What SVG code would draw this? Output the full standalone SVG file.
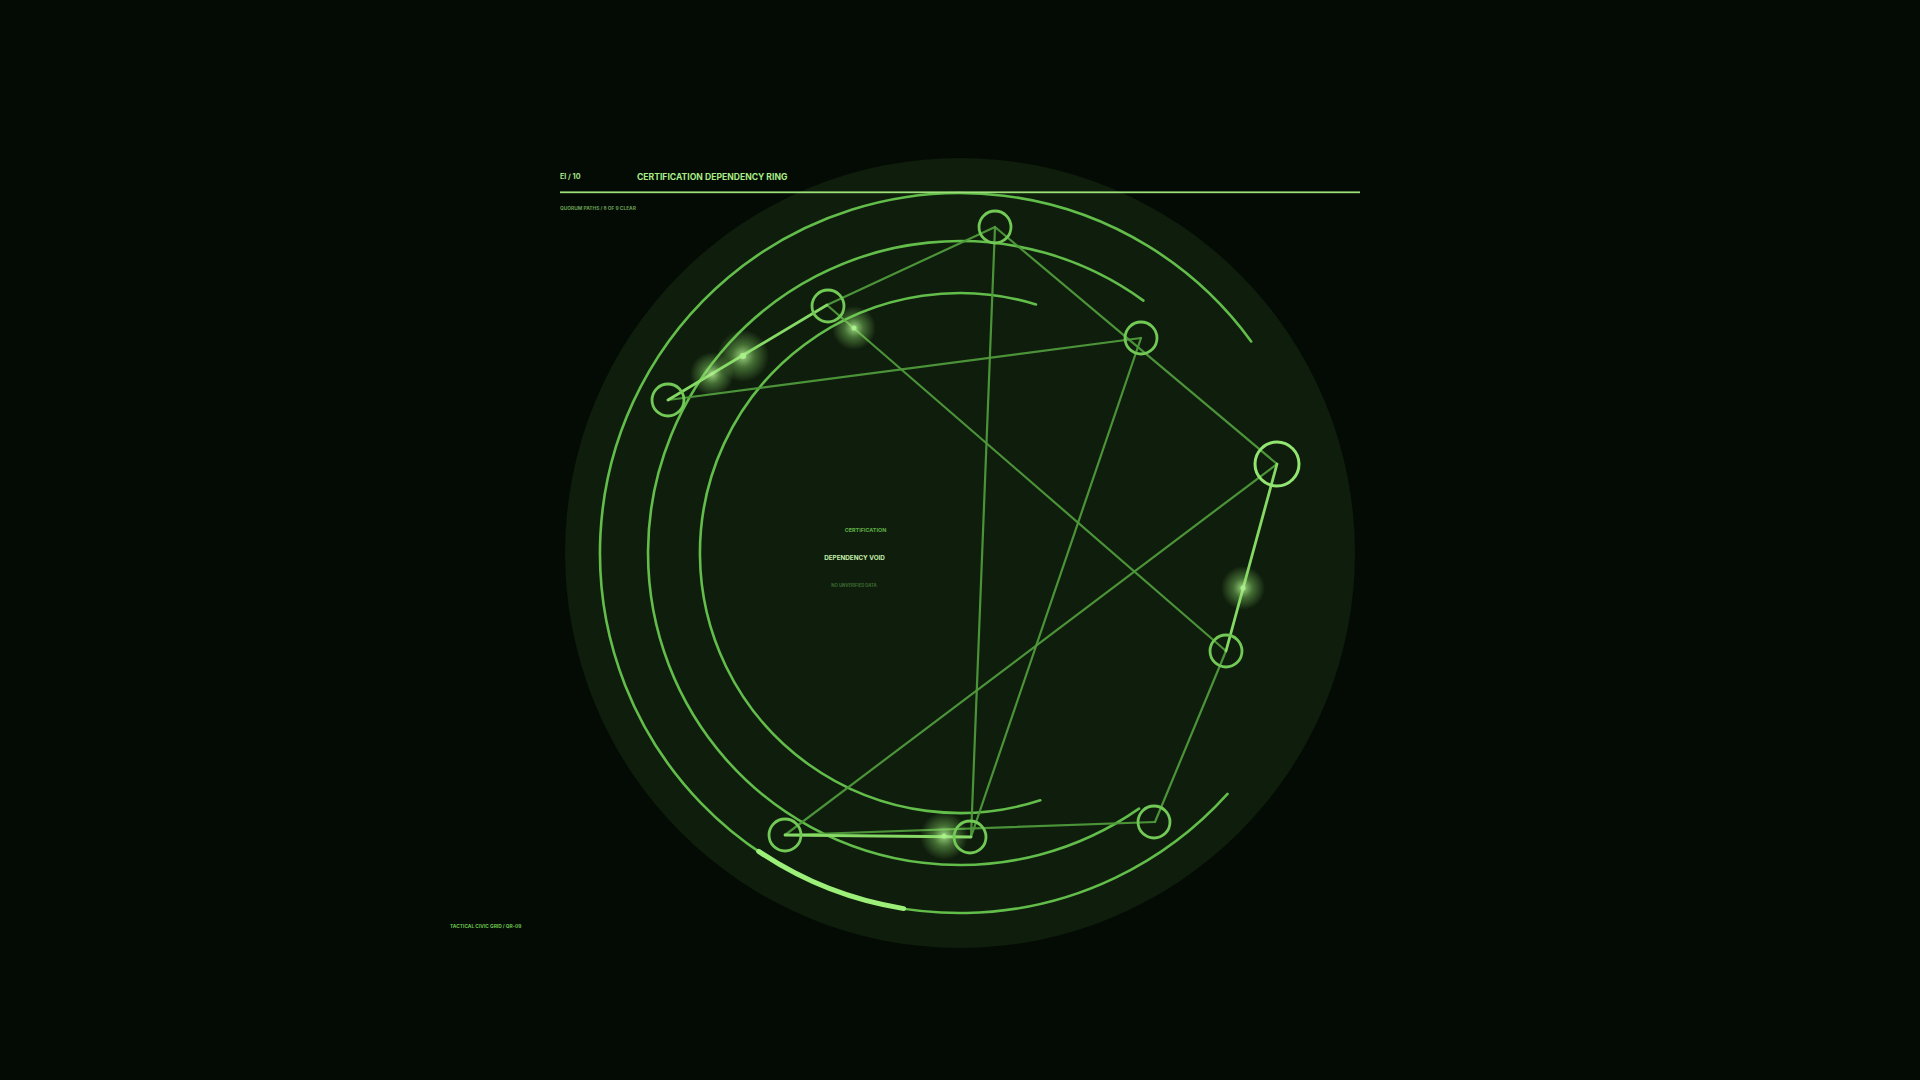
<svg xmlns="http://www.w3.org/2000/svg" width="1920" height="1080" viewBox="0 0 1920 1080">
<defs>
<style>
.arc{fill:none;stroke:#62bd4a;stroke-width:2.6;stroke-linecap:round}
.edge{fill:none;stroke:#4f9a3b;stroke-width:2.2;stroke-linecap:round;opacity:0.95}
.hot{fill:none;stroke:#86d965;stroke-width:2.8;stroke-linecap:round}
.node{fill:none;stroke:#72c956;stroke-width:2.8}
.big{fill:none;stroke:#92e570;stroke-width:3}
.t{font-family:Inter,"Liberation Sans",sans-serif;font-weight:700}
</style>
<radialGradient id="glow">
<stop offset="0" stop-color="#bdf79d" stop-opacity="0.85"/>
<stop offset="0.45" stop-color="#8fe06c" stop-opacity="0.4"/>
<stop offset="1" stop-color="#8fe06c" stop-opacity="0"/>
</radialGradient>
</defs>
<rect width="1920" height="1080" fill="#040b04"/>
<circle cx="960" cy="553" r="395" fill="#0f1d0c"/>
<g id="rings">
<path class="arc" d="M1251.2,341.4 A360,360 0 1 0 1227.5,793.9"/>
<path class="arc" d="M1143.4,300.6 A312,312 0 1 0 1139,808.6"/>
<path class="arc" d="M1036,304.4 A260,260 0 1 0 1040.3,800.3"/>
<path d="M758.7,851.4 A360,360 0 0 0 903.7,908.6" fill="none" stroke="#9cef78" stroke-width="5" stroke-linecap="round"/>
</g>
<g id="header">
<text class="t" x="560" y="179" font-size="7.2" fill="#a8e08c">EI / 10</text>
<text class="t" x="637" y="180" font-size="8.6" fill="#a9ec88">CERTIFICATION DEPENDENCY RING</text>
<rect x="560" y="191.4" width="800" height="1.8" fill="#9be07a"/>
<text class="t" x="560" y="210.3" font-size="4.85" fill="#6a9f55">QUORUM PATHS / 8 OF 9 CLEAR</text>
</g>
<g id="connectors">
<line class="edge" x1="827" y1="305" x2="995" y2="227"/>
<line class="edge" x1="668" y1="400" x2="1141" y2="338"/>
<line class="edge" x1="995" y1="227" x2="971" y2="837"/>
<line class="edge" x1="995" y1="227" x2="1277" y2="464"/>
<line class="edge" x1="1141" y1="338" x2="971" y2="837"/>
<line class="edge" x1="827" y1="305" x2="1226" y2="651"/>
<line class="edge" x1="1277" y1="464" x2="785" y2="835"/>
<line class="edge" x1="1226" y1="651" x2="1155" y2="822"/>
<line class="edge" x1="785" y1="835" x2="1155" y2="822"/>
<line class="hot" x1="668" y1="400" x2="827" y2="305"/>
<line class="hot" x1="1277" y1="464" x2="1226" y2="651"/>
<line class="hot" x1="785" y1="835" x2="971" y2="837"/>
</g>
<g id="pulses">
<circle cx="712" cy="374" r="22" fill="url(#glow)"/>
<circle cx="743" cy="356" r="26" fill="url(#glow)"/>
<circle cx="743" cy="356" r="3" fill="#a8f088"/>
<circle cx="854" cy="328" r="22" fill="url(#glow)"/>
<circle cx="854" cy="328" r="2.5" fill="#a8f088"/>
<circle cx="1243" cy="588" r="22" fill="url(#glow)"/>
<circle cx="1243" cy="588" r="2.5" fill="#a8f088"/>
<circle cx="944" cy="836" r="24" fill="url(#glow)"/>
<circle cx="944" cy="836" r="2.5" fill="#a8f088"/>
</g>
<g id="n1"><circle class="node" cx="995" cy="227" r="16"/></g>
<g id="n2"><circle class="node" cx="828" cy="306" r="16"/></g>
<g id="n3"><circle class="node" cx="668" cy="400" r="16"/></g>
<g id="n4"><circle class="node" cx="1141" cy="338" r="16"/></g>
<g id="n5"><circle class="big" cx="1277" cy="464" r="22"/></g>
<g id="n6"><circle class="node" cx="1226" cy="651" r="16"/></g>
<g id="n7"><circle class="node" cx="1154" cy="822" r="16"/></g>
<g id="n8"><circle class="node" cx="970" cy="837" r="16"/></g>
<g id="n9"><circle class="node" cx="785" cy="835" r="16"/></g>
<g id="center">
<text class="t" x="865.5" y="532" font-size="5.45" fill="#5eae45" text-anchor="middle">CERTIFICATION</text>
<text class="t" x="854.5" y="560" font-size="6.3" fill="#c2eeaa" text-anchor="middle">DEPENDENCY VOID</text>
<text class="t" x="854" y="586.5" font-size="4.25" fill="#3c6a32" text-anchor="middle">NO UNVERIFIED DATA</text>
</g>
<g id="footer">
<text class="t" x="450" y="927.5" font-size="4.85" fill="#6cc24e">TACTICAL CIVIC GRID / QR-09</text>
</g>
</svg>
